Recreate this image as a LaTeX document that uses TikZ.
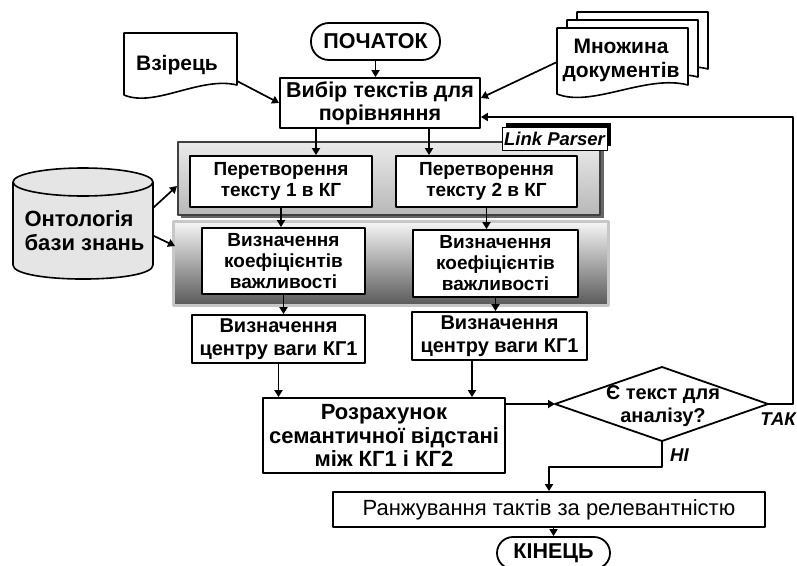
\documentclass[tikz,border=0pt]{standalone}
\usepackage{fontspec}
\setmainfont{Liberation Sans}
\usetikzlibrary{arrows.meta,calc}
\newcommand\fsz[2]{\fontsize{#1}{#2}\selectfont}
\begin{document}
\begin{tikzpicture}[x=1pt,y=-1pt,line join=round,
  box/.style={draw,line width=1.8pt,fill=white,align=center,inner sep=0pt},
  arr/.style={line width=1.7pt,-{Triangle[length=7pt,width=8pt]}},
  doc/.style={draw,line width=1.6pt,fill=white},
  lbl/.style={font=\bfseries\itshape\fsz{18.5}{20},inner sep=0pt}]
\useasboundingbox (0,0) rectangle (797,565);
\fill[white] (0,0) rectangle (797,565);

% documents
\draw[doc] (124,33) -- (237,33) -- (237,85) .. controls (200,76) and (155,108) .. (124,95) -- cycle;
\node[font=\bfseries\fsz{21}{24}] (vzir) at (177,65) {Взірець};
\draw[doc] (577,12) -- (708,12) -- (708,69) .. controls (666,58) and (612,92) .. (577,78) -- cycle;
\draw[doc] (567,20) -- (698,20) -- (698,77) .. controls (656,66) and (602,100) .. (567,86) -- cycle;
\draw[doc] (557,28) -- (688,28) -- (688,85) .. controls (646,74) and (592,108) .. (557,94) -- cycle;
\node[align=center,font=\bfseries\fsz{21}{24}] (mnozh) at (621,60) {Множина\\документів};

% cylinder
\draw[line width=1.6pt,fill=black!10] (13,182) -- (13,265) .. controls (13,283.7) and (153,283.7) .. (153,265) -- (153,182);
\draw[line width=1.6pt,fill=black!10] (83,182) ellipse [x radius=70,y radius=14];
\node[align=left,anchor=west,font=\bfseries\fsz{22}{24}] (onto) at (21,231) {Онтологія\\бази знань};

% start / select
\node[box,rounded corners=18pt,minimum width=129pt,minimum height=37pt,font=\bfseries\fsz{21.5}{24}] (start) at (375.5,41.5) {ПОЧАТОК};
\node[box,minimum width=200pt,minimum height=50pt,font=\bfseries\fsz{21.5}{23}] (vybir) at (380,103) {Вибір текстів для\\порівняння};

% panel 1
\fill[black!60] (181,145) rectangle (604,218);
\node[draw=black!75,line width=1.5pt,top color=black!8,bottom color=black!28,minimum width=422pt,minimum height=73pt,inner sep=0pt] (pan1) at (389,178.5) {};
\fill[black] (506,123) rectangle (611,146);
\node[draw,line width=0.8pt,fill=white,minimum width=105pt,minimum height=23pt,lbl] (lp) at (554.5,138.5) {Link Parser};

% panel 2
\node[draw=black!22,line width=3pt,top color=black!3,middle color=black!22,bottom color=black!65,minimum width=435pt,minimum height=84pt,inner sep=0pt] (pan2) at (390.5,263) {};

% boxes
\node[box,minimum width=182pt,minimum height=51pt,font=\bfseries\fsz{19}{21}] (p1) at (281,181.5) {Перетворення\\тексту 1 в КГ};
\node[box,minimum width=181pt,minimum height=51pt,font=\bfseries\fsz{19}{21}] (p2) at (486.5,181.5) {Перетворення\\тексту 2 в КГ};
\node[box,minimum width=163pt,minimum height=66pt,font=\bfseries\fsz{19}{21}] (k1) at (283.5,261) {Визначення\\коефіцієнтів\\важливості};
\node[box,minimum width=165pt,minimum height=67pt,font=\bfseries\fsz{19}{21}] (k2) at (495.5,263.5) {Визначення\\коефіцієнтів\\важливості};
\node[box,minimum width=173pt,minimum height=48pt,font=\bfseries\fsz{20}{23}] (c1) at (278.5,339) {Визначення\\центру ваги КГ1};
\node[box,minimum width=175pt,minimum height=48pt,font=\bfseries\fsz{20}{23}] (c2) at (499.5,336) {Визначення\\центру ваги КГ1};
\node[box,minimum width=242pt,minimum height=75pt,font=\bfseries\fsz{22}{23.5}] (roz) at (384,435.5) {Розрахунок\\семантичної відстані\\між КГ1 і КГ2};

% decision
\draw[line width=1.8pt,fill=white] (555,404) coordinate (decL) -- (662,367) coordinate (decT) -- (768,404) coordinate (decR) -- (662,441) coordinate (decB) -- cycle;
\node[align=center,font=\bfseries\fsz{20}{23}] (dec) at (663,406) {Є текст для\\аналізу?};
\node[lbl,anchor=east] (tak) at (796,419) {ТАК};
\node[lbl,anchor=west] (ni) at (670,455) {НІ};

% ranking / end
\node[box,minimum width=432pt,minimum height=35pt,font=\fsz{22}{24}] (rank) at (549,509.5) {Ранжування тактів за релевантністю};
\node[box,rounded corners=16pt,minimum width=113pt,minimum height=32pt,font=\bfseries\fsz{21.5}{23}] (fin) at (553.5,553) {КІНЕЦЬ};

% connectors
\coordinate (vzo) at (237,81);
\coordinate (mno) at (557,62);
\coordinate (a1) at (316,128);
\coordinate (a2) at (429,128);
\coordinate (oa1) at (153,208);
\coordinate (oa2) at (154,236);
\coordinate (ot1) at (177,186);
\coordinate (ot2) at (175,246);
\coordinate (b2) at (472,360);
\draw[arr] (start.south) -- (start.south |- vybir.north);
\draw[arr] (vzo) -- (vybir.west);
\draw[arr] (mno) -- ($(vybir.east)+(0,-5)$);
\draw[arr] (a1) -- (a1 |- p1.north);
\draw[arr] (a2) -- (a2 |- p2.north);
\draw[arr] (oa1) -- (ot1);
\draw[arr] (oa2) -- (ot2);
\draw[arr] (p1.south) -- (p1.south |- k1.north);
\draw[arr] (p2.south) -- (p2.south |- k2.north);
\draw[arr] (k1.south) -- (k1.south |- c1.north);
\draw[arr] (k2.south) -- (k2.south |- c2.north);
\draw[arr] (c1.south) -- (c1.south |- roz.north);
\draw[arr] (b2) -- (b2 |- roz.north);
\draw[arr] (roz.east |- decL) -- (decL);
\draw[arr] (decR) -- ++(25,0) |- ($(vybir.east)+(0,14)$);
\draw[arr] (decB) -- ++(0,26) -| (rank.north);
\draw[arr] (fin.north |- rank.south) -- (fin.north);
\end{tikzpicture}
\end{document}
